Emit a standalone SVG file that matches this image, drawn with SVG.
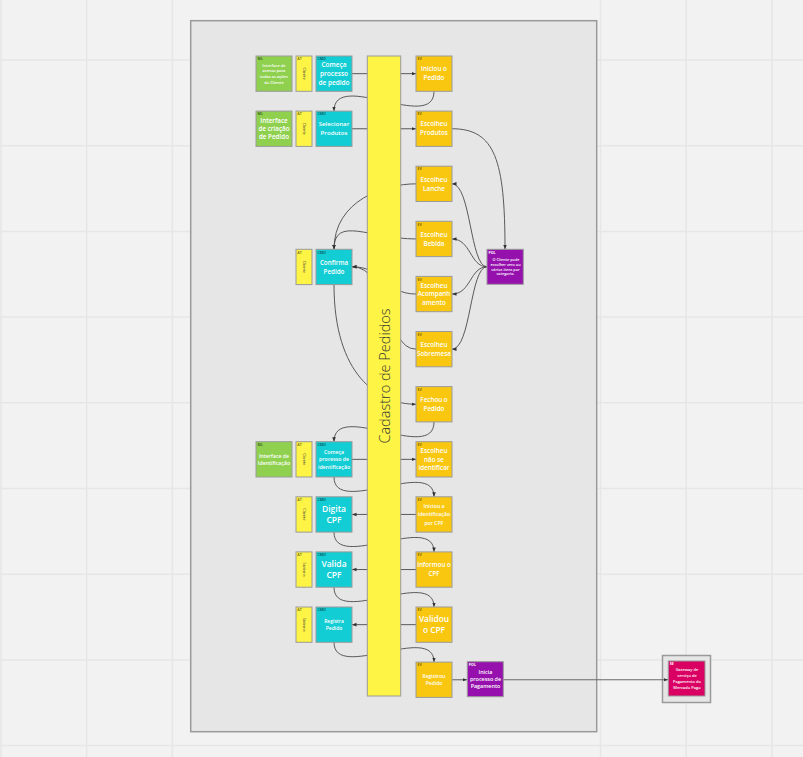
<svg xmlns="http://www.w3.org/2000/svg" width="803" height="757" viewBox="0 0 803 757">
<defs>
<style>
.g{stroke:#e6e6e6;stroke-width:1.5}
.frame{fill:#e6e6e6;stroke:#9a9a9a;stroke-width:1.5}
.b{stroke:#9a9a9a;stroke-width:1}
.ml{fill:#8fd14f}.at{fill:#fef445}.cmd{fill:#12cdd4}.ev{fill:#fac710}.pol{fill:#9510ac}.se{fill:#da0063}
.c{fill:none;stroke:#4a4a4a;stroke-width:0.9}
.ca{marker-end:url(#ah)}
.cl{fill:none;stroke:#6a6a6a;stroke-width:1.1}
text{font-family:"Open Sans","Noto Sans","DejaVu Sans",sans-serif}
.t{fill:#fff;font-weight:600;text-anchor:middle}
.tag{font-size:3.6px;font-weight:700;fill:rgba(0,0,0,0.55)}
.tagw{font-size:3.6px;font-weight:700;fill:#fff}
.att{font-size:3.8px;fill:#444;text-anchor:middle}
.lbl{font-size:14.5px;font-weight:300;fill:#333;text-anchor:middle}
</style>
<marker id="ah" viewBox="0 0 10 10" refX="10" refY="5" markerWidth="4.5" markerHeight="4.5" orient="auto" markerUnits="userSpaceOnUse"><path d="M0,1 L10,5 L0,9 z" fill="#333"/></marker>
</defs>
<rect width="803" height="757" fill="#f2f2f2"/>
<g id="grid">
<line class="g" x1="1" y1="0" x2="1" y2="757"/>
<line class="g" x1="86.7" y1="0" x2="86.7" y2="757"/>
<line class="g" x1="172.4" y1="0" x2="172.4" y2="757"/>
<line class="g" x1="600.5" y1="0" x2="600.5" y2="757"/>
<line class="g" x1="686.2" y1="0" x2="686.2" y2="757"/>
<line class="g" x1="772" y1="0" x2="772" y2="757"/>
<line class="g" x1="0" y1="60" x2="803" y2="60"/>
<line class="g" x1="0" y1="145.7" x2="803" y2="145.7"/>
<line class="g" x1="0" y1="231.4" x2="803" y2="231.4"/>
<line class="g" x1="0" y1="317.1" x2="803" y2="317.1"/>
<line class="g" x1="0" y1="402.8" x2="803" y2="402.8"/>
<line class="g" x1="0" y1="488.5" x2="803" y2="488.5"/>
<line class="g" x1="0" y1="574.2" x2="803" y2="574.2"/>
<line class="g" x1="0" y1="659.9" x2="803" y2="659.9"/>
<line class="g" x1="0" y1="745.6" x2="803" y2="745.6"/>
</g>
<rect id="frame-main" class="frame" x="190.7" y="20.7" width="406" height="711"/>
<rect id="frame-ext" class="frame" x="662.5" y="655.5" width="48" height="47"/>
<g id="connectors">
<path class="c ca" d="M352,73.65 L416,73.65"/>
<path class="c ca" d="M434,91.3 C434,133 334,69 334,111.1"/>
<path class="c ca" d="M352,128.75 L416,128.75"/>
<path class="c ca" d="M452,128.75 C495,128.75 505,160 505,249.3"/>
<path class="c ca" d="M487,266.8 C470,266.8 471,183.85 452,183.85"/>
<path class="c ca" d="M487,266.8 C470,266.8 471,238.95 452,238.95"/>
<path class="c ca" d="M487,266.8 C470,266.8 471,294.05 452,294.05"/>
<path class="c ca" d="M487,266.8 C470,266.8 471,349.15 452,349.15"/>
<path class="c ca" d="M416,183.85 C385,183.85 334,200 334,249.3"/>
<path class="c ca" d="M416,238.95 C370,238.95 334,215 334,249.3"/>
<path class="c ca" d="M416,294.05 C385,294.05 385,266.8 352,266.8"/>
<path class="c ca" d="M416,349.15 C385,349.15 390,266.8 352,266.8"/>
<path class="c ca" d="M334,284.6 C334,375 378,404.25 416,404.25"/>
<path class="c ca" d="M434,421.9 C434,463.6 334,399.7 334,441.7"/>
<path class="c ca" d="M352,459.35 L416,459.35"/>
<path class="c ca" d="M334,477 C334,517 434,456.8 434,496.8"/>
<path class="c ca" d="M416,514.45 L352,514.45"/>
<path class="c ca" d="M334,532.1 C334,572.1 434,511.9 434,551.9"/>
<path class="c ca" d="M416,569.55 L352,569.55"/>
<path class="c ca" d="M334,587.2 C334,627.2 434,567 434,607"/>
<path class="c ca" d="M416,624.65 L352,624.65"/>
<path class="c ca" d="M334,642.3 C334,682.3 434,622.1 434,662.1"/>
<path class="cl ca" d="M452,679.75 L467,679.75"/>
<path class="cl ca" d="M503,679.75 L668,679.75"/>
</g>
<g id="bar">
<rect class="at b" x="367.3" y="56" width="33.4" height="640"/>
<text class="lbl" transform="translate(389.5,376) rotate(-90)">Cadastro de Pedidos</text>
</g>
<g id="ml1"><rect class="ml b" x="256" y="56" width="36" height="35.3"/><text class="tag" x="257.5" y="60.2">ML</text>
<text class="t" font-size="4"><tspan x="274" y="66.5">Interface de</tspan><tspan x="274" y="72.2">acesso para</tspan><tspan x="274" y="77.9">todas as ações</tspan><tspan x="274" y="83.6">do Cliente</tspan></text></g>
<g id="ml2"><rect class="ml b" x="256" y="111.1" width="36" height="35.3"/><text class="tag" x="257.5" y="115.3">ML</text>
<text class="t" font-size="6.3"><tspan x="274" y="122.75">Interface</tspan><tspan x="274" y="131.05">de criação</tspan><tspan x="274" y="139.35">de Pedido</tspan></text></g>
<g id="ml3"><rect class="ml b" x="256" y="441.7" width="36" height="35.3"/><text class="tag" x="257.5" y="445.9">ML</text>
<text class="t" font-size="5.2"><tspan x="274" y="457.7">Interface de</tspan><tspan x="274" y="464.7">Identificação</tspan></text></g>
<g id="at1"><rect class="at b" x="296" y="56" width="16" height="35.3"/><text class="tag" x="297.3" y="60.2">AT</text><text class="att" transform="translate(302.8,73.65) rotate(90)">Cliente</text></g>
<g id="at2"><rect class="at b" x="296" y="111.1" width="16" height="35.3"/><text class="tag" x="297.3" y="115.3">AT</text><text class="att" transform="translate(302.8,128.75) rotate(90)">Cliente</text></g>
<g id="at3"><rect class="at b" x="296" y="249.3" width="16" height="35.3"/><text class="tag" x="297.3" y="253.5">AT</text><text class="att" transform="translate(302.8,266.95) rotate(90)">Cliente</text></g>
<g id="at4"><rect class="at b" x="296" y="441.7" width="16" height="35.3"/><text class="tag" x="297.3" y="445.9">AT</text><text class="att" transform="translate(302.8,459.35) rotate(90)">Cliente</text></g>
<g id="at5"><rect class="at b" x="296" y="496.8" width="16" height="35.3"/><text class="tag" x="297.3" y="501">AT</text><text class="att" transform="translate(302.8,514.45) rotate(90)">Cliente</text></g>
<g id="at6"><rect class="at b" x="296" y="551.9" width="16" height="35.3"/><text class="tag" x="297.3" y="556.1">AT</text><text class="att" transform="translate(302.8,569.55) rotate(90)">Sistema</text></g>
<g id="at7"><rect class="at b" x="296" y="607" width="16" height="35.3"/><text class="tag" x="297.3" y="611.2">AT</text><text class="att" transform="translate(302.8,624.65) rotate(90)">Sistema</text></g>
<g id="cmd1"><rect class="cmd b" x="316" y="56" width="36" height="35.3"/><text class="tag" x="317.5" y="60.2">CMD</text>
<text class="t" font-size="6.5"><tspan x="334" y="67.25">Começa</tspan><tspan x="334" y="75.95">processo</tspan><tspan x="334" y="84.65">de pedido</tspan></text></g>
<g id="cmd2"><rect class="cmd b" x="316" y="111.1" width="36" height="35.3"/><text class="tag" x="317.5" y="115.3">CMD</text>
<text class="t" font-size="6.1"><tspan x="334" y="126.45">Selecionar</tspan><tspan x="334" y="135.45">Produtos</tspan></text></g>
<g id="cmd3"><rect class="cmd b" x="316" y="249.3" width="36" height="35.3"/><text class="tag" x="317.5" y="253.5">CMD</text>
<text class="t" font-size="6.3"><tspan x="334" y="264.6">Confirma</tspan><tspan x="334" y="273.6">Pedido</tspan></text></g>
<g id="cmd4"><rect class="cmd b" x="316" y="441.7" width="36" height="35.3"/><text class="tag" x="317.5" y="445.9">CMD</text>
<text class="t" font-size="5.2"><tspan x="334" y="453.7">Começa</tspan><tspan x="334" y="461.2">processo de</tspan><tspan x="334" y="468.7">identificação</tspan></text></g>
<g id="cmd5"><rect class="cmd b" x="316" y="496.8" width="36" height="35.3"/><text class="tag" x="317.5" y="501">CMD</text>
<text class="t" font-size="8.5"><tspan x="334" y="511.6">Digita</tspan><tspan x="334" y="523.3">CPF</tspan></text></g>
<g id="cmd6"><rect class="cmd b" x="316" y="551.9" width="36" height="35.3"/><text class="tag" x="317.5" y="556.1">CMD</text>
<text class="t" font-size="8.5"><tspan x="334" y="566.7">Valida</tspan><tspan x="334" y="578.4">CPF</tspan></text></g>
<g id="cmd7"><rect class="cmd b" x="316" y="607" width="36" height="35.3"/><text class="tag" x="317.5" y="611.2">CMD</text>
<text class="t" font-size="5"><tspan x="334" y="623.05">Registra</tspan><tspan x="334" y="629.75">Pedido</tspan></text></g>
<g id="ev1"><rect class="ev b" x="416" y="56" width="36" height="35.3"/><text class="tag" x="417.5" y="60.2">EV</text>
<text class="t" font-size="6.3"><tspan x="434" y="71.35">Iniciou o</tspan><tspan x="434" y="80.35">Pedido</tspan></text></g>
<g id="ev2"><rect class="ev b" x="416" y="111.1" width="36" height="35.3"/><text class="tag" x="417.5" y="115.3">EV</text>
<text class="t" font-size="6.3"><tspan x="434" y="126.45">Escolheu</tspan><tspan x="434" y="135.45">Produtos</tspan></text></g>
<g id="ev3"><rect class="ev b" x="416" y="166.2" width="36" height="35.3"/><text class="tag" x="417.5" y="170.4">EV</text>
<text class="t" font-size="6.3"><tspan x="434" y="181.55">Escolheu</tspan><tspan x="434" y="190.55">Lanche</tspan></text></g>
<g id="ev4"><rect class="ev b" x="416" y="221.3" width="36" height="35.3"/><text class="tag" x="417.5" y="225.5">EV</text>
<text class="t" font-size="6.3"><tspan x="434" y="236.65">Escolheu</tspan><tspan x="434" y="245.65">Bebida</tspan></text></g>
<g id="ev5"><rect class="ev b" x="416" y="276.4" width="36" height="35.3"/><text class="tag" x="417.5" y="280.6">EV</text>
<text class="t" font-size="6.3"><tspan x="434" y="287.75">Escolheu</tspan><tspan x="434" y="296.25">Acompanh</tspan><tspan x="434" y="304.75">amento</tspan></text></g>
<g id="ev6"><rect class="ev b" x="416" y="331.5" width="36" height="35.3"/><text class="tag" x="417.5" y="335.7">EV</text>
<text class="t" font-size="6.3"><tspan x="434" y="346.85">Escolheu</tspan><tspan x="434" y="355.85">Sobremesa</tspan></text></g>
<g id="ev7"><rect class="ev b" x="416" y="386.6" width="36" height="35.3"/><text class="tag" x="417.5" y="390.8">EV</text>
<text class="t" font-size="6.3"><tspan x="434" y="401.95">Fechou o</tspan><tspan x="434" y="410.95">Pedido</tspan></text></g>
<g id="ev8"><rect class="ev b" x="416" y="441.7" width="36" height="35.3"/><text class="tag" x="417.5" y="445.9">EV</text>
<text class="t" font-size="6.3"><tspan x="434" y="453">Escolheu</tspan><tspan x="434" y="461.6">não se</tspan><tspan x="434" y="470.2">identificar</tspan></text></g>
<g id="ev9"><rect class="ev b" x="416" y="496.8" width="36" height="35.3"/><text class="tag" x="417.5" y="501">EV</text>
<text class="t" font-size="5.2"><tspan x="434" y="508">Iniciou a</tspan><tspan x="434" y="516.3">identificação</tspan><tspan x="434" y="524.6">por CPF</tspan></text></g>
<g id="ev10"><rect class="ev b" x="416" y="551.9" width="36" height="35.3"/><text class="tag" x="417.5" y="556.1">EV</text>
<text class="t" font-size="6.2"><tspan x="434" y="567.1">Informou o</tspan><tspan x="434" y="576.4">CPF</tspan></text></g>
<g id="ev11"><rect class="ev b" x="416" y="607" width="36" height="35.3"/><text class="tag" x="417.5" y="611.2">EV</text>
<text class="t" font-size="8.3"><tspan x="434" y="622.05">Validou</tspan><tspan x="434" y="633.05">o CPF</tspan></text></g>
<g id="ev12"><rect class="ev b" x="416" y="662.1" width="36" height="35.3"/><text class="tag" x="417.5" y="666.3">EV</text>
<text class="t" font-size="5"><tspan x="434" y="677.65">Registrou</tspan><tspan x="434" y="685.35">Pedido</tspan></text></g>
<g id="pol1"><rect class="pol b" x="487" y="249.3" width="36.3" height="35"/><text class="tagw" x="488.5" y="253.5">POL</text>
<text class="t" font-size="3.8"><tspan x="506" y="261.2">O Cliente pode</tspan><tspan x="505.5" y="265.9">escolher zero ou</tspan><tspan x="505.5" y="270.6">vários itens por</tspan><tspan x="505.5" y="275.3">categoria.</tspan></text></g>
<g id="pol2"><rect class="pol b" x="467.3" y="661.7" width="36" height="35"/><text class="tagw" x="468.8" y="665.9">POL</text>
<text class="t" font-size="5.4"><tspan x="485.5" y="673.9">Inicia</tspan><tspan x="485.5" y="681.1">processo de</tspan><tspan x="485.5" y="688.3">Pagamento</tspan></text></g>
<g id="se1"><rect class="se b" x="668.3" y="661" width="36.7" height="35"/><text class="tagw" x="669.8" y="665.2">SE</text>
<text class="t" font-size="4"><tspan x="687" y="671.2">Gateway de</tspan><tspan x="687" y="677">serviço de</tspan><tspan x="687" y="682.8">Pagamento do</tspan><tspan x="687" y="688.6">Mercado Pago</tspan></text></g>
</svg>
